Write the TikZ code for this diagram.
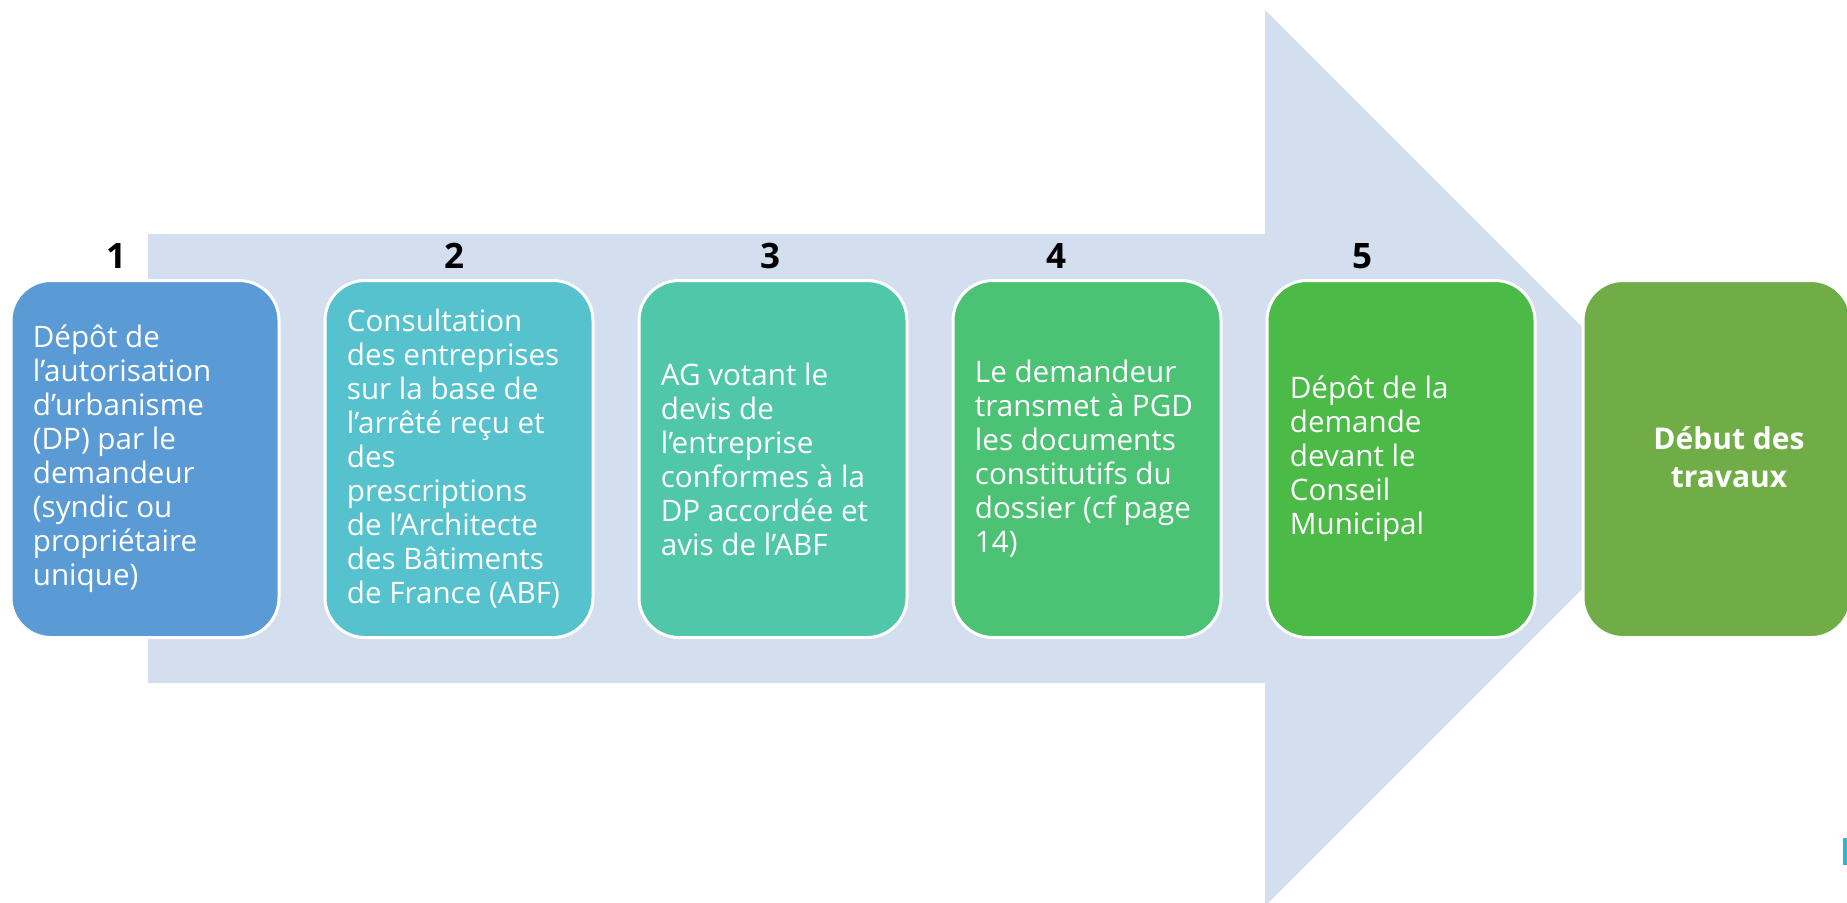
\documentclass[tikz,border=0pt]{standalone}
\usepackage{fontspec}
\setmainfont{Open Sans}
\definecolor{arrowc}{HTML}{D3DEEF}
\definecolor{cA}{HTML}{5B9BD5}
\definecolor{cB}{HTML}{56C2CE}
\definecolor{cC}{HTML}{51C7A9}
\definecolor{cD}{HTML}{4CC275}
\definecolor{cE}{HTML}{4BBA47}
\definecolor{cF}{HTML}{70AD47}
\definecolor{markc}{HTML}{35B5C9}
\begin{document}
\begin{tikzpicture}[x=0.5pt,y=-0.5pt,
  stepbox/.style={rounded corners=20pt, draw=white, line width=1.5pt,
    minimum width=134pt, minimum height=178.5pt, inner sep=0pt},
  boxtext/.style={anchor=west, align=left, text=white, inner sep=0pt,
    font=\fontsize{14.8}{17}\selectfont},
  num/.style={font=\bfseries\fontsize{17.5}{20}\selectfont, text=black, inner sep=0pt}]
\useasboundingbox (0,0) rectangle (1847,902);
\clip (0,0) rectangle (1847,902);
% big arrow
\fill[arrowc] (148,234) -- (1265,234) -- (1265,10) -- (1713,458)
  -- (1265,906) -- (1265,683) -- (148,683) -- cycle;
% boxes
\node[stepbox, fill=cA] (b1) at (145,459) {};
\node[stepbox, fill=cB] (b2) at (459,459) {};
\node[stepbox, fill=cC] (b3) at (773,459) {};
\node[stepbox, fill=cD] (b4) at (1087,459) {};
\node[stepbox, fill=cE] (b5) at (1401,459) {};
\node[stepbox, fill=cF] (b6) at (1717,459) {};
% texts
\node[boxtext] (t1) at ([xshift=11.5pt]b1.west) {Dépôt de\\l’autorisation\\d’urbanisme\\(DP) par le\\demandeur\\(syndic ou\\propriétaire\\unique)};
\node[boxtext] (t2) at ([xshift=11.5pt]b2.west) {Consultation\\des entreprises\\sur la base de\\l’arrêté reçu et\\des\\prescriptions\\de l’Architecte\\des Bâtiments\\de France (ABF)};
\node[boxtext] (t3) at ([xshift=11.5pt]b3.west) {AG votant le\\devis de\\l’entreprise\\conformes à la\\DP accordée et\\avis de l’ABF};
\node[boxtext] (t4) at ([xshift=11.5pt]b4.west) {Le demandeur\\transmet à PGD\\les documents\\constitutifs du\\dossier (cf page\\14)};
\node[boxtext] (t5) at ([xshift=12pt]b5.west) {Dépôt de la\\demande\\devant le\\Conseil\\Municipal};
\node[align=center, text=white, inner sep=0pt,
  font=\bfseries\fontsize{15}{19}\selectfont] (t6) at ([xshift=6pt,yshift=1pt]b6.center) {Début des\\travaux};
% numbers
\node[num] (n1) at (116,256) {1};
\node[num] (n2) at (454,256) {2};
\node[num] (n3) at (770,256) {3};
\node[num] (n4) at (1056,256) {4};
\node[num] (n5) at (1362,256) {5};
% small mark at the right edge
\fill[markc] (1843,838) rectangle (1847,865);
\end{tikzpicture}
\end{document}
